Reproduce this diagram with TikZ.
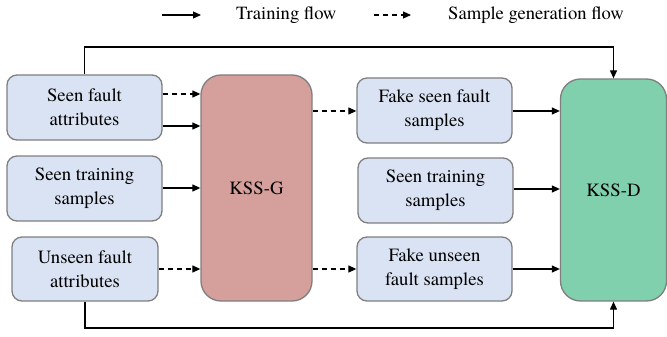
\documentclass[tikz,border=0pt]{standalone}
\usepackage{fontspec}
\newfontfamily\timesface{texgyretermes-regular.otf}
\usetikzlibrary{arrows.meta}
\definecolor{boxblue}{HTML}{DAE3F3}
\definecolor{genred}{HTML}{D5A09B}
\definecolor{disgreen}{HTML}{80D0AD}
\definecolor{edgegray}{HTML}{7F7F7F}
\begin{document}
\begin{tikzpicture}[x=1pt,y=1pt,
  tip/.tip={Triangle[length=8pt,width=7pt]},
  inbox/.style={draw=edgegray,line width=1.3pt,fill=boxblue,rounded corners=10pt,
    align=center,inner sep=0pt,font=\timesface\fontsize{18.7}{24}\selectfont},
  netbox/.style={draw=edgegray,line width=1.3pt,rounded corners=20pt,
    inner sep=0pt,font=\timesface\fontsize{18.7}{24}\selectfont},
  train/.style={line width=1.2pt,-tip},
  gen/.style={line width=1.2pt,dash pattern=on 5pt off 4pt,-tip},
  legtext/.style={font=\timesface\fontsize{18.6}{22}\selectfont,inner sep=0pt}]
\useasboundingbox (0,0) rectangle (667,-337);

% inputs of the generator
\node[inbox,minimum width=155pt,minimum height=65pt] (sfa) at (84.5,-107.5) {Seen fault\\attributes};
\node[inbox,minimum width=155pt,minimum height=65pt] (sts) at (84.5,-188.5) {Seen training\\samples};
\node[inbox,minimum width=146pt,minimum height=64pt] (ufa) at (85,-269) {Unseen fault\\attributes};

% generator
\node[netbox,fill=genred,minimum width=111pt,minimum height=226pt] (G) at (256.5,-188) {KSS-G};

% inputs of the discriminator
\node[inbox,minimum width=155pt,minimum height=65pt] (fsf) at (434.5,-110.5) {Fake seen fault\\samples};
\node[inbox,minimum width=155pt,minimum height=65pt] (sts2) at (435.5,-190.5) {Seen training\\samples};
\node[inbox,minimum width=155pt,minimum height=64pt] (fuf) at (434.5,-269) {Fake unseen\\fault samples};

% discriminator
\node[netbox,fill=disgreen,minimum width=106pt,minimum height=222pt] (D) at (613.5,-190) {KSS-D};

% helper levels
\coordinate (ya) at (0,-94);
\coordinate (yb) at (0,-126);
\coordinate (yc) at (0,-188);
\coordinate (yd) at (0,-269);
\coordinate (ye) at (0,-111);
\coordinate (yf) at (0,-189);
\coordinate (toplevel) at (0,-47);
\coordinate (botlevel) at (0,-328);

% into the generator
\draw[gen] (sfa.east |- ya) -- (G.west |- ya);
\draw[train] (sfa.east |- yb) -- (G.west |- yb);
\draw[train] (sts.east |- yc) -- (G.west |- yc);
\draw[gen] (ufa.east |- yd) -- (G.west |- yd);

% out of the generator
\draw[gen] (G.east |- ye) -- (fsf.west |- ye);
\draw[gen] (G.east |- yd) -- (fuf.west |- yd);

% into the discriminator
\draw[train] (fsf.east |- ye) -- (D.west |- ye);
\draw[train] (sts2.east |- yf) -- (D.west |- yf);
\draw[train] (fuf.east |- yd) -- (D.west |- yd);

% attribute bypasses
\draw[train] (sfa.north) |- (D.north |- toplevel) -- (D.north);
\draw[train] (ufa.south) |- (D.south |- botlevel) -- (D.south);

% legend
\coordinate (la1) at (162,-15);
\coordinate (la2) at (201,-15);
\coordinate (lb1) at (374,-15);
\coordinate (lb2) at (411,-15);
\draw[train] (la1) -- (la2);
\node[legtext,anchor=west] (lt1) at (236,-15) {Training flow};
\draw[gen] (lb1) -- (lb2);
\node[legtext,anchor=west] (lt2) at (448,-15) {Sample generation flow};
\end{tikzpicture}
\end{document}
